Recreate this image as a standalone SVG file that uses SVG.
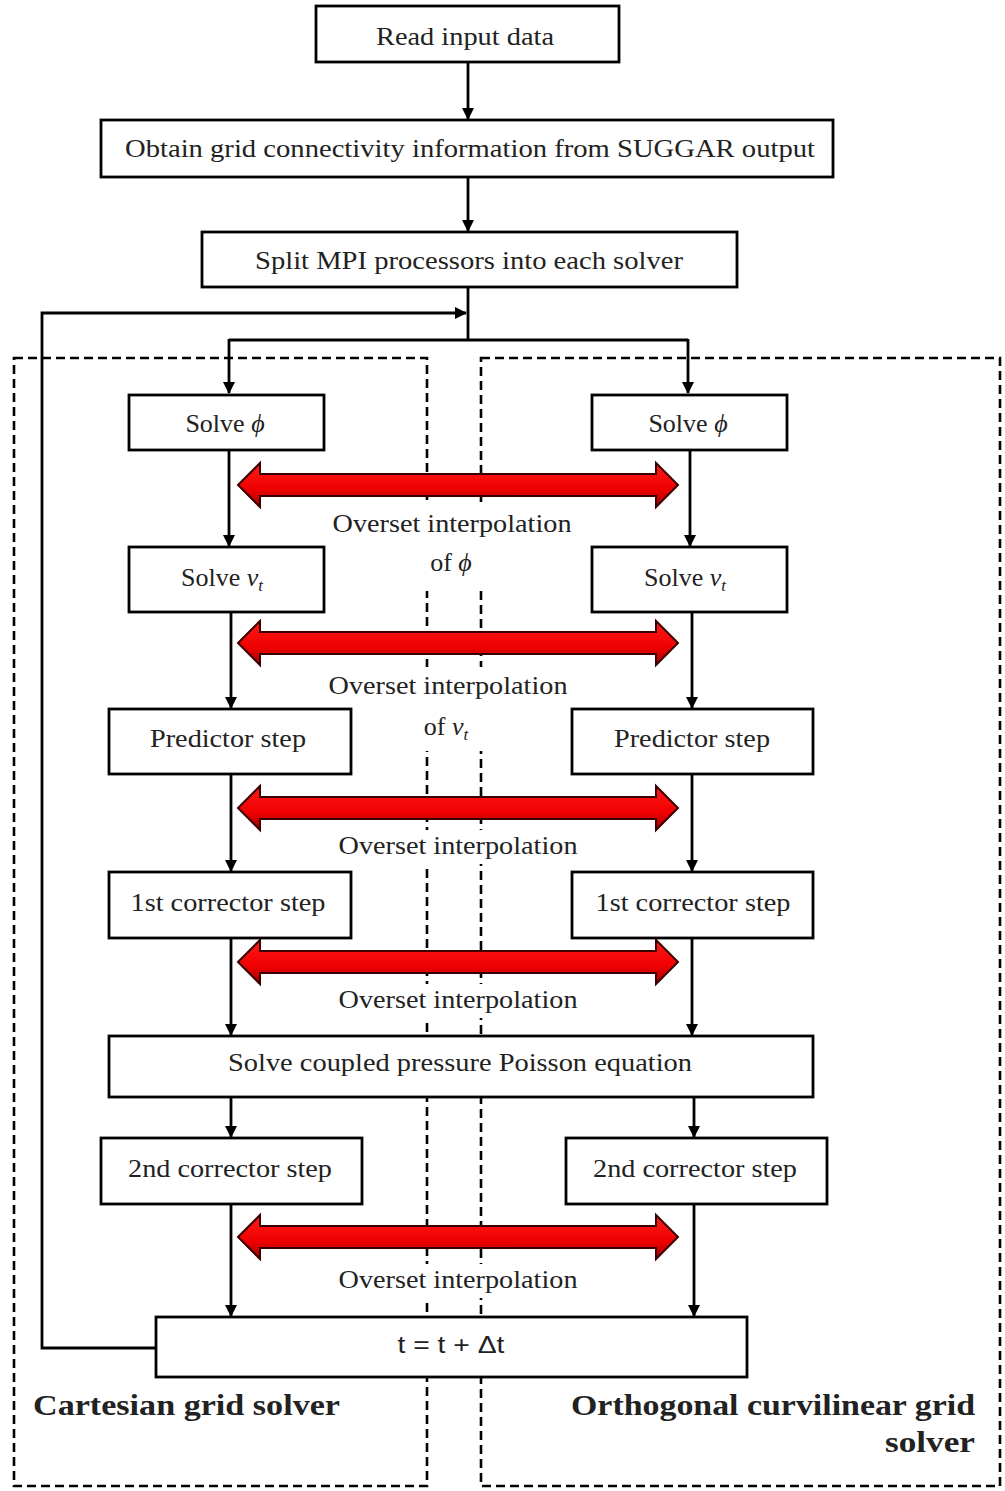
<svg xmlns="http://www.w3.org/2000/svg" width="1005" height="1491" viewBox="0 0 1005 1491">
<style>
.box{fill:#fff;stroke:#000;stroke-width:2.8}
.dash{fill:none;stroke:#000;stroke-width:2.6;stroke-dasharray:9 5}
.ln{fill:none;stroke:#000;stroke-width:2.8}
.t{font-family:"Liberation Serif","Times New Roman",serif;font-size:26px;fill:#222;text-anchor:middle}
.b{font-family:"Liberation Serif","Times New Roman",serif;font-size:30px;font-weight:bold;fill:#222}
.g{font-style:italic}
.red{fill:url(#rg);stroke:#3a0000;stroke-width:2}
.bg{fill:#fff}
</style>
<defs>
<marker id="ah" markerWidth="12" markerHeight="12" refX="11" refY="6" orient="auto" markerUnits="userSpaceOnUse">
<path d="M0,0 L12,6 L0,12 Z" fill="#000"/>
</marker>
<linearGradient id="rg" x1="0" y1="0" x2="0" y2="1">
<stop offset="0" stop-color="#ff1a1a"/>
<stop offset="0.6" stop-color="#f00000"/>
<stop offset="1" stop-color="#a00000"/>
</linearGradient>
<path id="dbl" d="M0,0 L22,-22 L22,-11 L418,-11 L418,-22 L440,0 L418,22 L418,11 L22,11 L22,22 Z"/>
</defs>

<g id="regions">
<rect class="dash" x="14" y="358" width="413" height="1128"/>
<rect class="dash" x="481" y="358" width="519" height="1128"/>
</g>

<g id="label-bg">
<rect class="bg" x="330" y="505" width="250" height="86"/>
<rect class="bg" x="326" y="667" width="250" height="84"/>
<rect class="bg" x="336" y="830" width="246" height="34"/>
<rect class="bg" x="336" y="984" width="246" height="34"/>
<rect class="bg" x="336" y="1264" width="246" height="34"/>
</g>

<g id="connectors">
<line class="ln" x1="468" y1="62" x2="468" y2="119" marker-end="url(#ah)"/>
<line class="ln" x1="468" y1="177" x2="468" y2="231" marker-end="url(#ah)"/>
<line class="ln" x1="468" y1="287" x2="468" y2="340"/>
<polyline class="ln" points="229,340 688,340"/>
<line class="ln" x1="229" y1="339" x2="229" y2="393" marker-end="url(#ah)"/>
<line class="ln" x1="688" y1="339" x2="688" y2="393" marker-end="url(#ah)"/>
<polyline class="ln" points="156,1348 42,1348 42,313 466,313" marker-end="url(#ah)"/>
<line class="ln" x1="229" y1="450" x2="229" y2="546" marker-end="url(#ah)"/>
<line class="ln" x1="690" y1="450" x2="690" y2="546" marker-end="url(#ah)"/>
<line class="ln" x1="231" y1="612" x2="231" y2="708" marker-end="url(#ah)"/>
<line class="ln" x1="692" y1="612" x2="692" y2="708" marker-end="url(#ah)"/>
<line class="ln" x1="231" y1="774" x2="231" y2="871" marker-end="url(#ah)"/>
<line class="ln" x1="692" y1="774" x2="692" y2="871" marker-end="url(#ah)"/>
<line class="ln" x1="231" y1="938" x2="231" y2="1035" marker-end="url(#ah)"/>
<line class="ln" x1="692" y1="938" x2="692" y2="1035" marker-end="url(#ah)"/>
<line class="ln" x1="231" y1="1097" x2="231" y2="1137" marker-end="url(#ah)"/>
<line class="ln" x1="694" y1="1097" x2="694" y2="1137" marker-end="url(#ah)"/>
<line class="ln" x1="231" y1="1204" x2="231" y2="1316" marker-end="url(#ah)"/>
<line class="ln" x1="694" y1="1204" x2="694" y2="1316" marker-end="url(#ah)"/>
<use href="#dbl" class="red" x="238" y="485"/>
<use href="#dbl" class="red" x="238" y="643"/>
<use href="#dbl" class="red" x="238" y="808"/>
<use href="#dbl" class="red" x="238" y="962"/>
<use href="#dbl" class="red" x="238" y="1237"/>
<text class="t" x="452" y="532" textLength="239" lengthAdjust="spacingAndGlyphs">Overset interpolation</text>
<text class="t" x="451" y="571">of <tspan class="g">ϕ</tspan></text>
<text class="t" x="448" y="694" textLength="239" lengthAdjust="spacingAndGlyphs">Overset interpolation</text>
<text class="t" x="446" y="735">of <tspan class="g">ν</tspan><tspan class="g" font-size="17" dy="5">t</tspan></text>
<text class="t" x="458" y="854" textLength="239" lengthAdjust="spacingAndGlyphs">Overset interpolation</text>
<text class="t" x="458" y="1008" textLength="239" lengthAdjust="spacingAndGlyphs">Overset interpolation</text>
<text class="t" x="458" y="1288" textLength="239" lengthAdjust="spacingAndGlyphs">Overset interpolation</text>
</g>

<g id="n-read"><rect class="box" x="316" y="6" width="303" height="56"/>
<text class="t" x="465" y="45" textLength="178" lengthAdjust="spacingAndGlyphs">Read input data</text></g>
<g id="n-obtain"><rect class="box" x="101" y="120" width="732" height="57"/>
<text class="t" x="470" y="157" textLength="690" lengthAdjust="spacingAndGlyphs">Obtain grid connectivity information from SUGGAR output</text></g>
<g id="n-split"><rect class="box" x="202" y="232" width="535" height="55"/>
<text class="t" x="469" y="269" textLength="428" lengthAdjust="spacingAndGlyphs">Split MPI processors into each solver</text></g>

<g id="n-phi-l"><rect class="box" x="129" y="395" width="195" height="55"/>
<text class="t" x="225" y="432">Solve <tspan class="g">ϕ</tspan></text></g>
<g id="n-phi-r"><rect class="box" x="592" y="395" width="195" height="55"/>
<text class="t" x="688" y="432">Solve <tspan class="g">ϕ</tspan></text></g>

<g id="n-nu-l"><rect class="box" x="129" y="547" width="195" height="65"/>
<text class="t" x="222" y="586">Solve <tspan class="g">ν</tspan><tspan class="g" font-size="17" dy="5">t</tspan></text></g>
<g id="n-nu-r"><rect class="box" x="592" y="547" width="195" height="65"/>
<text class="t" x="685" y="586">Solve <tspan class="g">ν</tspan><tspan class="g" font-size="17" dy="5">t</tspan></text></g>

<g id="n-pred-l"><rect class="box" x="109" y="709" width="242" height="65"/>
<text class="t" x="228" y="747" textLength="156" lengthAdjust="spacingAndGlyphs">Predictor step</text></g>
<g id="n-pred-r"><rect class="box" x="572" y="709" width="241" height="65"/>
<text class="t" x="692" y="747" textLength="156" lengthAdjust="spacingAndGlyphs">Predictor step</text></g>

<g id="n-c1-l"><rect class="box" x="109" y="872" width="242" height="66"/>
<text class="t" x="228" y="911" textLength="195" lengthAdjust="spacingAndGlyphs">1st corrector step</text></g>
<g id="n-c1-r"><rect class="box" x="572" y="872" width="241" height="66"/>
<text class="t" x="693" y="911" textLength="195" lengthAdjust="spacingAndGlyphs">1st corrector step</text></g>

<g id="n-poisson"><rect class="box" x="109" y="1036" width="704" height="61"/>
<text class="t" x="460" y="1071" textLength="464" lengthAdjust="spacingAndGlyphs">Solve coupled pressure Poisson equation</text></g>

<g id="n-c2-l"><rect class="box" x="101" y="1138" width="261" height="66"/>
<text class="t" x="230" y="1177" textLength="204" lengthAdjust="spacingAndGlyphs">2nd corrector step</text></g>
<g id="n-c2-r"><rect class="box" x="566" y="1138" width="261" height="66"/>
<text class="t" x="695" y="1177" textLength="204" lengthAdjust="spacingAndGlyphs">2nd corrector step</text></g>

<g id="n-time"><rect class="box" x="156" y="1317" width="591" height="60"/>
<text x="451" y="1353" font-family="Liberation Sans, Arial, sans-serif" font-size="23" fill="#222" text-anchor="middle" textLength="107" lengthAdjust="spacingAndGlyphs">t = t + Δt</text></g>

<g id="region-labels">
<text class="b" x="33" y="1415" textLength="307" lengthAdjust="spacingAndGlyphs">Cartesian grid solver</text>
<text class="b" x="975" y="1415" text-anchor="end" textLength="404" lengthAdjust="spacingAndGlyphs">Orthogonal curvilinear grid</text>
<text class="b" x="975" y="1452" text-anchor="end" textLength="90" lengthAdjust="spacingAndGlyphs">solver</text>
</g>
</svg>
